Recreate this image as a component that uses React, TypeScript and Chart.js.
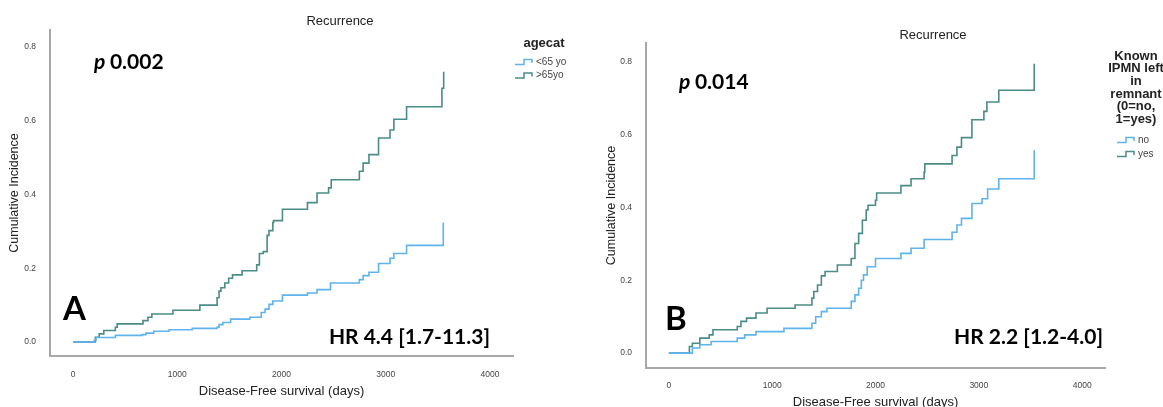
import React, { useEffect, useRef } from "react";
import { Chart, registerables } from "chart.js";

Chart.register(...registerables);

// ---------- Data ----------
const xTickValues = [0, 1000, 2000, 3000, 4000];
const yTickValues = [0, 0.2, 0.4, 0.6, 0.8];

// Panel A: agecat
const aYoungDays = [0, 203, 221, 406, 664, 700, 774, 922, 1143, 1382, 1401, 1438, 1512, 1696, 1806, 1843, 1880, 1917, 2009, 2249, 2341, 2470, 2747, 2783, 2839, 2931, 3041, 3078, 3200, 3552];
const aYoungVals = [0, 0.004, 0.012, 0.018, 0.02, 0.024, 0.029, 0.033, 0.037, 0.04, 0.047, 0.053, 0.062, 0.067, 0.08, 0.089, 0.102, 0.111, 0.127, 0.133, 0.142, 0.16, 0.169, 0.18, 0.189, 0.213, 0.227, 0.24, 0.262, 0.324];
const aOldDays = [0, 214, 251, 295, 406, 424, 671, 719, 756, 958, 1217, 1382, 1401, 1419, 1456, 1493, 1530, 1622, 1762, 1788, 1825, 1862, 1880, 1917, 1924, 2009, 2249, 2341, 2452, 2477, 2747, 2783, 2839, 2931, 3041, 3078, 3200, 3539, 3556];
const aOldVals = [0, 0.013, 0.022, 0.031, 0.04, 0.049, 0.058, 0.067, 0.076, 0.086, 0.1, 0.12, 0.138, 0.147, 0.16, 0.173, 0.182, 0.193, 0.209, 0.24, 0.245, 0.289, 0.302, 0.324, 0.329, 0.36, 0.378, 0.404, 0.418, 0.44, 0.463, 0.485, 0.508, 0.553, 0.575, 0.604, 0.638, 0.688, 0.733];

// Panel B: Known IPMN left in remnant
const bNoDays = [0, 228, 300, 409, 662, 734, 843, 1114, 1385, 1421, 1476, 1530, 1765, 1801, 1837, 1863, 1884, 1920, 2000, 2246, 2344, 2470, 2741, 2788, 2832, 2933, 3031, 3085, 3193, 3536];
const bNoVals = [0, 0.014, 0.023, 0.032, 0.041, 0.05, 0.059, 0.068, 0.082, 0.1, 0.114, 0.123, 0.142, 0.16, 0.178, 0.2, 0.215, 0.237, 0.26, 0.274, 0.288, 0.312, 0.332, 0.352, 0.37, 0.411, 0.424, 0.451, 0.479, 0.557];
const bYesDays = [0, 199, 228, 300, 391, 427, 662, 698, 752, 843, 951, 1222, 1385, 1403, 1439, 1476, 1512, 1631, 1765, 1801, 1837, 1873, 1910, 1928, 2000, 2011, 2246, 2344, 2470, 2477, 2741, 2788, 2832, 2933, 3049, 3078, 3193, 3536];
const bYesVals = [0, 0.018, 0.027, 0.041, 0.05, 0.064, 0.073, 0.087, 0.096, 0.11, 0.123, 0.132, 0.151, 0.169, 0.187, 0.212, 0.224, 0.242, 0.26, 0.301, 0.329, 0.365, 0.393, 0.406, 0.42, 0.44, 0.46, 0.479, 0.497, 0.52, 0.543, 0.566, 0.592, 0.641, 0.664, 0.69, 0.722, 0.795];

const BLUE = "#5fb3ee";
const TEAL = "#4a8c87";
const SANS = "'Liberation Sans', Arial, sans-serif";
const BOLDFONT = "Lato, 'Open Sans', sans-serif";

const toPoints = (xs: number[], ys: number[]) => xs.map((x, i) => ({ x, y: ys[i] }));

function stepIcon(ctx: CanvasRenderingContext2D, x: number, y: number, color: string) {
  ctx.save();
  ctx.strokeStyle = color;
  ctx.lineWidth = 1.5;
  ctx.beginPath();
  ctx.moveTo(x, y + 2.5);
  ctx.lineTo(x + 9, y + 2.5);
  ctx.lineTo(x + 9, y - 2.5);
  ctx.lineTo(x + 17, y - 2.5);
  ctx.lineTo(x + 17, y + 1);
  ctx.stroke();
  ctx.restore();
}

const panelTextPlugin = {
  id: "panelText",
  afterDraw(chart: any, _args: any, opts: any) {
    const ctx: CanvasRenderingContext2D = chart.ctx;
    ctx.save();
    // title
    ctx.fillStyle = "#222";
    ctx.font = `13px ${SANS}`;
    ctx.textAlign = "center";
    ctx.textBaseline = "middle";
    ctx.fillText("Recurrence", opts.titleX, opts.titleY);
    // legend title
    ctx.font = `bold 13px ${SANS}`;
    opts.legendTitle.forEach((line: string, i: number) => {
      ctx.fillText(line, opts.legendX, opts.legendTitleY + i * opts.legendLineH);
    });
    // legend items
    ctx.font = `10px ${SANS}`;
    ctx.textAlign = "left";
    ctx.fillStyle = "#444";
    opts.items.forEach((it: any, i: number) => {
      const y = opts.itemY + i * opts.itemGap;
      stepIcon(ctx, opts.iconX, y, it.color);
      ctx.fillText(it.label, opts.iconX + 21, y);
    });
    // p value
    ctx.fillStyle = "#000";
    ctx.font = `italic bold 21px ${BOLDFONT}`;
    ctx.fillText("p", opts.pX, opts.pY);
    const pw = ctx.measureText("p ").width;
    ctx.font = `bold 21px ${BOLDFONT}`;
    ctx.fillText(opts.pText, opts.pX + pw, opts.pY);
    // panel letter
    ctx.font = `bold 33px ${BOLDFONT}`;
    ctx.fillText(opts.letter, opts.letterX, opts.letterY);
    // HR
    ctx.font = `bold 21px ${BOLDFONT}`;
    ctx.textAlign = "right";
    ctx.fillText(opts.hr, opts.hrRight, opts.hrY);
    ctx.restore();
  },
};

function buildConfig(p: any) {
  return {
    type: "line",
    data: {
      datasets: p.series.map((s: any) => ({
        label: s.label,
        data: toPoints(s.days, s.vals),
        borderColor: s.color,
        backgroundColor: s.color,
        borderWidth: 1.6,
        pointRadius: 0,
        stepped: true,
        fill: false,
      })),
    },
    options: {
      responsive: false,
      animation: false,
      events: [],
      layout: { padding: { left: 0, top: p.top, right: p.right, bottom: 0 } },
      plugins: {
        legend: { display: false },
        title: { display: false },
        tooltip: { enabled: false },
        panelText: p.text,
      },
      scales: {
        x: {
          type: "linear",
          min: -221,
          max: 4221,
          afterBuildTicks: (s: any) => {
            s.ticks = xTickValues.map((v) => ({ value: v }));
          },
          afterFit: (s: any) => {
            s.height = p.xH;
          },
          grid: { display: false },
          border: { display: true, color: "#a8a8a8", width: 2 },
          ticks: {
            font: { family: SANS, size: 8.5 },
            color: "#444",
            padding: p.xTickPad,
            maxRotation: 0,
            autoSkip: false,
            callback: (v: any) => String(v),
          },
          title: {
            display: true,
            text: "Disease-Free survival (days)",
            font: { family: SANS, size: 13 },
            color: "#222",
            padding: { top: 0, bottom: p.xTitlePad },
          },
        },
        y: {
          type: "linear",
          min: p.yMin,
          max: p.yMax,
          afterBuildTicks: (s: any) => {
            s.ticks = yTickValues.map((v) => ({ value: v }));
          },
          afterFit: (s: any) => {
            s.width = p.yW;
          },
          grid: { display: false },
          border: { display: true, color: "#a8a8a8", width: 2 },
          ticks: {
            font: { family: SANS, size: 8.5 },
            color: "#444",
            padding: 6,
            autoSkip: false,
            callback: (v: any) => Number(v).toFixed(1),
          },
          title: {
            display: true,
            text: "Cumulative Incidence",
            font: { family: SANS, size: 12.5 },
            color: "#222",
            padding: { top: p.yTitlePad, bottom: 0 },
          },
        },
      },
    },
    plugins: [panelTextPlugin],
  };
}

const panelA = {
  top: 30,
  right: 67,
  xH: 51,
  yW: 50,
  yMin: -0.038,
  yMax: 0.846,
  xTickPad: 6,
  xTitlePad: 8,
  yTitlePad: 7,
  series: [
    { label: "<65 yo", days: aYoungDays, vals: aYoungVals, color: BLUE },
    { label: ">65yo", days: aOldDays, vals: aOldVals, color: TEAL },
  ],
  text: {
    titleX: 340,
    titleY: 21,
    legendTitle: ["agecat"],
    legendX: 544,
    legendTitleY: 43,
    legendLineH: 13,
    items: [
      { label: "<65 yo", color: BLUE },
      { label: ">65yo", color: TEAL },
    ],
    iconX: 515,
    itemY: 62,
    itemGap: 13.5,
    pX: 94,
    pY: 62,
    pText: "0.002",
    letter: "A",
    letterX: 63,
    letterY: 309,
    hr: "HR 4.4 [1.7-11.3]",
    hrRight: 490,
    hrY: 337,
  },
};

const panelB = {
  top: 43,
  right: 58,
  xH: 39,
  yW: 66,
  yMin: -0.041,
  yMax: 0.852,
  xTickPad: 5,
  xTitlePad: -3,
  yTitlePad: 24,
  series: [
    { label: "no", days: bNoDays, vals: bNoVals, color: BLUE },
    { label: "yes", days: bYesDays, vals: bYesVals, color: TEAL },
  ],
  text: {
    titleX: 353,
    titleY: 35,
    legendTitle: ["Known", "IPMN left", "in", "remnant", "(0=no,", "1=yes)"],
    legendX: 556,
    legendTitleY: 56,
    legendLineH: 12.7,
    items: [
      { label: "no", color: BLUE },
      { label: "yes", color: TEAL },
    ],
    iconX: 537,
    itemY: 140,
    itemGap: 14,
    pX: 99,
    pY: 82,
    pText: "0.014",
    letter: "B",
    letterX: 85,
    letterY: 319,
    hr: "HR 2.2 [1.2-4.0]",
    hrRight: 523,
    hrY: 337,
  },
};

function Panel({ cfg, left, width }: { cfg: any; left: number; width: number }) {
  const ref = useRef<HTMLCanvasElement | null>(null);
  useEffect(() => {
    if (!ref.current) return;
    const chart = new Chart(ref.current, buildConfig(cfg) as any);
    return () => chart.destroy();
  }, [cfg]);
  return (
    <canvas
      ref={ref}
      width={width}
      height={407}
      style={{ position: "absolute", left, top: 0, width, height: 407 }}
    />
  );
}

export default function App() {
  return (
    <div style={{ position: "absolute", left: 0, top: 0, width: 1163, height: 407, background: "#fff", overflow: "hidden" }}>
      <Panel cfg={panelA} left={0} width={580} />
      <Panel cfg={panelB} left={580} width={583} />
    </div>
  );
}
